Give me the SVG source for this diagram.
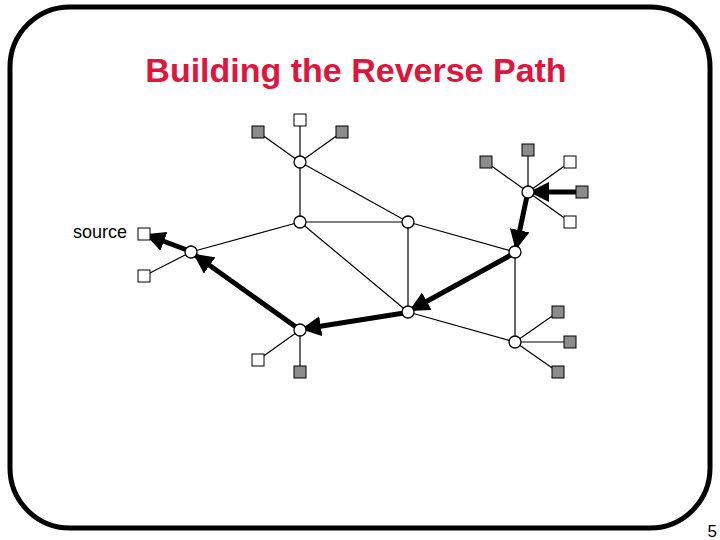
<svg xmlns="http://www.w3.org/2000/svg" width="720" height="540" viewBox="0 0 720 540">
<defs>
<style>
.l{stroke:#000;stroke-width:1.2;fill:none}
.t{stroke:#000;stroke-width:5;fill:none;marker-end:url(#ah)}
.n{fill:#fff;stroke:#000;stroke-width:1.3}
.w{fill:#fff;stroke:#000;stroke-width:1}
.g{fill:#8c8c8c;stroke:#000;stroke-width:1}
</style>
<marker id="ah" viewBox="0 0 10 10" refX="9" refY="5" markerWidth="4" markerHeight="4" orient="auto" markerUnits="strokeWidth">
<path d="M0,0 L10,5 L0,10 z" fill="#000"/>
</marker>
</defs>
<rect x="0" y="0" width="720" height="540" fill="#fff"/>
<rect x="10" y="7" width="700" height="521" rx="60" ry="60" fill="none" stroke="#000" stroke-width="5"/>
<text x="356" y="82" text-anchor="middle" font-family="Liberation Sans, Arial, sans-serif" font-weight="bold" font-size="34" fill="#E0143C">Building the Reverse Path</text>
<text x="717" y="537" text-anchor="end" font-family="Liberation Sans, Arial, sans-serif" font-size="17" fill="#000">5</text>
<text x="127" y="238" text-anchor="end" font-family="Liberation Sans, Arial, sans-serif" font-size="18" fill="#000">source</text>
<g id="connectors">
<line class="l" x1="300" y1="162" x2="300" y2="222"/>
<line class="l" x1="300" y1="162" x2="408" y2="222"/>
<line class="l" x1="300" y1="222" x2="408" y2="222"/>
<line class="l" x1="300" y1="222" x2="191" y2="252"/>
<line class="l" x1="300" y1="222" x2="408" y2="312"/>
<line class="l" x1="408" y1="222" x2="408" y2="312"/>
<line class="l" x1="408" y1="222" x2="515" y2="252"/>
<line class="l" x1="515" y1="252" x2="515" y2="342"/>
<line class="l" x1="408" y1="312" x2="515" y2="342"/>
<line class="l" x1="300" y1="162" x2="300" y2="120"/>
<line class="l" x1="300" y1="162" x2="258" y2="132"/>
<line class="l" x1="300" y1="162" x2="342" y2="132"/>
<line class="l" x1="528" y1="192" x2="486" y2="162"/>
<line class="l" x1="528" y1="192" x2="528" y2="150"/>
<line class="l" x1="528" y1="192" x2="570" y2="162"/>
<line class="l" x1="528" y1="192" x2="570" y2="222"/>
<line class="l" x1="191" y1="252" x2="144" y2="276"/>
<line class="l" x1="300" y1="330" x2="258" y2="360"/>
<line class="l" x1="300" y1="330" x2="300" y2="372"/>
<line class="l" x1="515" y1="342" x2="558" y2="312"/>
<line class="l" x1="515" y1="342" x2="570" y2="342"/>
<line class="l" x1="515" y1="342" x2="558" y2="372"/>
<line class="t" x1="576" y1="192" x2="531" y2="192"/>
<line class="t" x1="527" y1="196" x2="516" y2="248"/>
<line class="t" x1="511" y1="255" x2="411" y2="310"/>
<line class="t" x1="404" y1="313" x2="303" y2="329"/>
<line class="t" x1="296" y1="327" x2="195" y2="255"/>
<line class="t" x1="187" y1="250" x2="147" y2="235"/>
</g>
<g id="nodeA"><circle class="n" cx="300" cy="162" r="6"/></g>
<g id="nodeB"><circle class="n" cx="300" cy="222" r="6"/></g>
<g id="nodeC"><circle class="n" cx="408" cy="222" r="6"/></g>
<g id="nodeD"><circle class="n" cx="515" cy="252" r="6"/></g>
<g id="nodeE"><circle class="n" cx="528" cy="192" r="6"/></g>
<g id="nodeF"><circle class="n" cx="191" cy="252" r="6"/></g>
<g id="nodeG"><circle class="n" cx="300" cy="330" r="6"/></g>
<g id="nodeH"><circle class="n" cx="408" cy="312" r="6"/></g>
<g id="nodeI"><circle class="n" cx="515" cy="342" r="6"/></g>
<g id="leafA1"><rect class="w" x="294" y="114" width="12" height="12"/></g>
<g id="leafA2"><rect class="g" x="252" y="126" width="12" height="12"/></g>
<g id="leafA3"><rect class="g" x="336" y="126" width="12" height="12"/></g>
<g id="leafE1"><rect class="g" x="480" y="156" width="12" height="12"/></g>
<g id="leafE2"><rect class="g" x="522" y="144" width="12" height="12"/></g>
<g id="leafE3"><rect class="w" x="564" y="156" width="12" height="12"/></g>
<g id="leafE4"><rect class="g" x="576" y="186" width="12" height="12"/></g>
<g id="leafE5"><rect class="w" x="564" y="216" width="12" height="12"/></g>
<g id="source"><rect class="w" x="138" y="228" width="12" height="12"/></g>
<g id="leafF2"><rect class="w" x="138" y="270" width="12" height="12"/></g>
<g id="leafG1"><rect class="w" x="252" y="354" width="12" height="12"/></g>
<g id="leafG2"><rect class="g" x="294" y="366" width="12" height="12"/></g>
<g id="leafI1"><rect class="g" x="552" y="306" width="12" height="12"/></g>
<g id="leafI2"><rect class="g" x="564" y="336" width="12" height="12"/></g>
<g id="leafI3"><rect class="g" x="552" y="366" width="12" height="12"/></g>
</svg>
